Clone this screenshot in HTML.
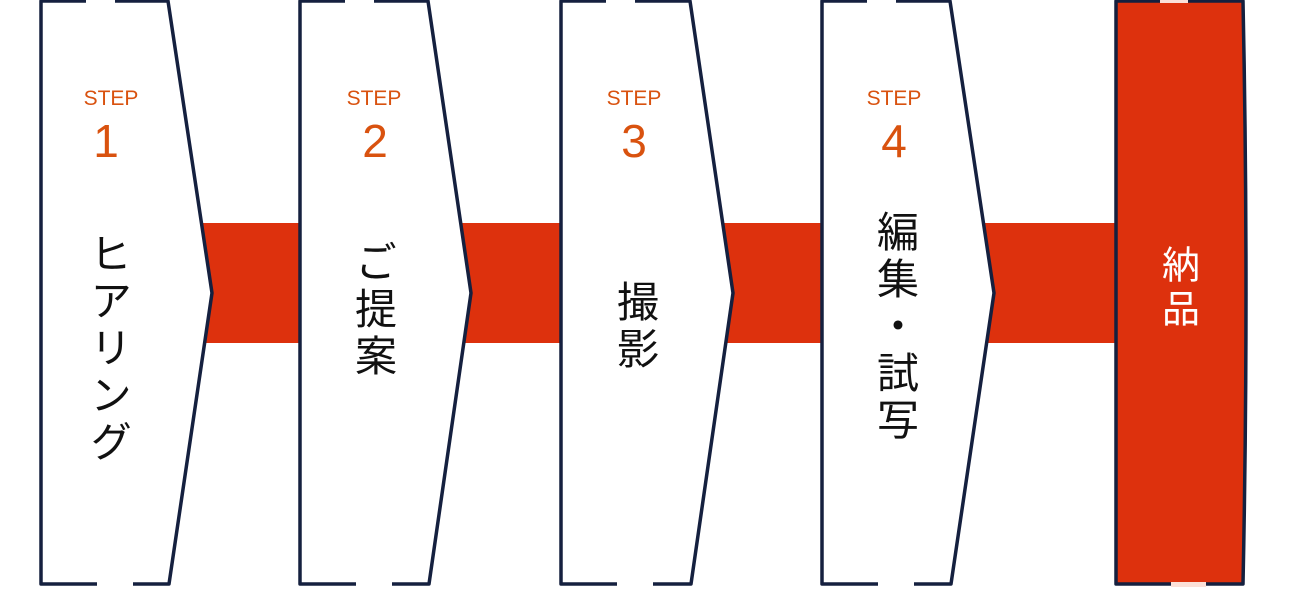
<!DOCTYPE html>
<html><head><meta charset="utf-8"><style>
html,body{margin:0;padding:0;background:#fff;width:1300px;height:598px;overflow:hidden}
svg{display:block}
.step{font-family:"Liberation Sans","Noto Sans CJK JP",sans-serif;fill:#d9520f;text-anchor:middle}
.jp{font-family:"Noto Sans CJK JP",sans-serif;fill:#111;font-size:42px;writing-mode:vertical-rl;text-anchor:start;letter-spacing:5px}
</style></head><body>
<svg width="1300" height="598" viewBox="0 0 1300 598" xmlns="http://www.w3.org/2000/svg">
<g fill="#dd310d">
<rect x="200" y="223" width="105" height="120"/>
<rect x="460" y="223" width="105" height="120"/>
<rect x="722" y="223" width="105" height="120"/>
<rect x="983" y="223" width="135" height="120"/>
</g>
<g fill="#fff" stroke="#15203f" stroke-width="3.5" stroke-linejoin="round">
<polygon points="41,1 168,1 212,293 169,584 41,584"/>
<polygon points="300,1 428,1 471,293 429,584 300,584"/>
<polygon points="561,1 690,1 733,293 691,584 561,584"/>
<polygon points="822,1 950,1 994,293 951,584 822,584"/>
<path d="M1116,1 L1243,1 Q1249,293 1243,584 L1116,584 Z" fill="#dd310d"/>
</g>
<g fill="#fff">
<rect x="86" y="-2" width="29" height="6"/>
<rect x="97" y="581" width="36" height="6"/>
<rect x="345" y="-2" width="29" height="6"/>
<rect x="356" y="581" width="36" height="6"/>
<rect x="606" y="-2" width="29" height="6"/>
<rect x="617" y="581" width="36" height="6"/>
<rect x="867" y="-2" width="29" height="6"/>
<rect x="878" y="581" width="36" height="6"/>
</g>
<g fill="#fbe0d8"><rect x="1160" y="-2" width="28" height="5"/><rect x="1171" y="582" width="35" height="5"/></g>
<text class="step" x="111" y="105" font-size="21">STEP</text>
<text class="step" x="106" y="157" font-size="46">1</text>
<text class="step" x="374" y="105" font-size="21">STEP</text>
<text class="step" x="375" y="157" font-size="46">2</text>
<text class="step" x="634" y="105" font-size="21">STEP</text>
<text class="step" x="634" y="157" font-size="46">3</text>
<text class="step" x="894" y="105" font-size="21">STEP</text>
<text class="step" x="894" y="157" font-size="46">4</text>
<text class="jp" x="111" y="232">ヒアリング</text>
<text class="jp" x="376" y="240">ご提案</text>
<text class="jp" x="638" y="280">撮影</text>
<text class="jp" x="898" y="210">編集・試写</text>
<text class="jp" x="1181" y="245" style="fill:#fff;font-size:38px;letter-spacing:6px">納品</text>
</svg>
</body></html>
